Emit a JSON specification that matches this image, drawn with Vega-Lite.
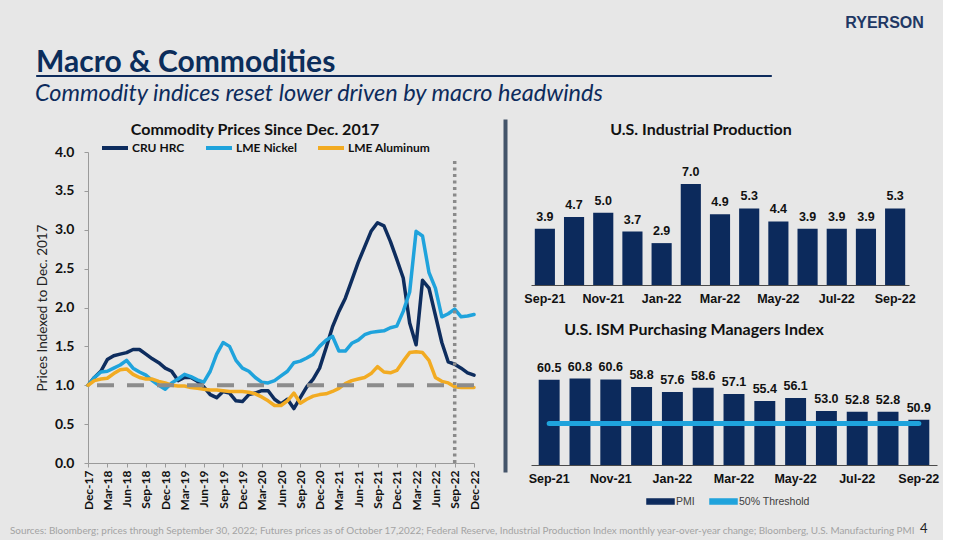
{
  "$schema": "https://vega.github.io/schema/vega-lite/v6.json",
  "background": "#e7e7e7",
  "padding": {"left": 10, "top": 14, "right": 4, "bottom": 4},
  "title": {"text": "RYERSON", "anchor": "end", "dx": -15, "font": "Liberation Sans", "fontSize": 16, "fontWeight": "bold", "color": "#1f3864", "offset": 17},
  "spacing": 12,
  "resolve": {"scale": {"color": "independent"}, "legend": {"color": "independent"}},
  "vconcat": [
    {
      "spacing": 3,
      "resolve": {"scale": {"color": "independent"}, "legend": {"color": "independent"}},
      "vconcat": [
        {
          "spacing": 0,
          "hconcat": [
            {"width": 25, "height": 1, "data": {"values": [{}]}, "mark": {"type": "point", "opacity": 0, "size": 0}, "encoding": {}},
            {"width": 735, "height": 1, "data": {"values": [{}]}, "mark": {"type": "point", "opacity": 0, "size": 0}, "encoding": {},
             "view": {"stroke": "#0d2b5c", "strokeWidth": 1, "fill": "#0d2b5c"},
             "title": {"text": "Macro & Commodities", "anchor": "start", "font": "Lato", "fontSize": 30, "fontWeight": "bold", "color": "#0b2d5b", "offset": -3}}
          ]
        },
        {
          "title": {"text": "Commodity indices reset lower driven by macro headwinds", "anchor": "start", "dx": 25, "font": "Lato", "fontSize": 23.5, "fontStyle": "italic", "fontWeight": "normal", "color": "#0d2b5c", "offset": 14},
          "spacing": 23,
          "resolve": {"scale": {"color": "independent"}, "legend": {"color": "independent"}},
          "hconcat": [
            {"width": 2, "height": 1, "data": {"values": [{}]}, "mark": {"type": "point", "opacity": 0, "size": 0}, "encoding": {}},
            {
              "spacing": -17,
              "resolve": {"scale": {"color": "independent"}, "legend": {"color": "independent"}},
              "vconcat": [
                {"width": 386, "height": 1, "data": {"values": [{}]}, "mark": {"type": "point", "opacity": 0, "size": 0}, "encoding": {},
                 "title": {"text": "Commodity Prices Since Dec. 2017", "orient": "bottom", "dx": -26, "font": "Lato", "fontSize": 16, "fontWeight": "bold", "color": "#111111", "offset": 0}},
                {
                  "width": 386,
                  "height": 311,
                  "encoding": {
                    "y": {"field": "value", "type": "quantitative", "scale": {"domain": [0, 4], "nice": false},
                          "axis": {"title": "Prices Indexed to Dec. 2017", "values": [0, 0.5, 1, 1.5, 2, 2.5, 3, 3.5, 4], "format": ".1f", "labelOverlap": false,
                                   "labelFont": "Lato", "labelFontWeight": "bold", "labelFontSize": 14, "labelColor": "#111111", "labelPadding": 10,
                                   "titleFont": "Lato", "titleFontWeight": "normal", "titleFontSize": 13.5, "titleColor": "#222222", "titlePadding": 5,
                                   "domainColor": "#9a9a9a", "tickColor": "#9a9a9a", "tickSize": 4, "grid": false}}
                  },
                  "layer": [
                    {
                      "data": {"values": [
                        {"month": "Dec-17", "series": "CRU HRC", "value": 1.00},
                        {"month": "Jan-18", "series": "CRU HRC", "value": 1.10},
                        {"month": "Feb-18", "series": "CRU HRC", "value": 1.18},
                        {"month": "Mar-18", "series": "CRU HRC", "value": 1.33},
                        {"month": "Apr-18", "series": "CRU HRC", "value": 1.38},
                        {"month": "May-18", "series": "CRU HRC", "value": 1.40},
                        {"month": "Jun-18", "series": "CRU HRC", "value": 1.42},
                        {"month": "Jul-18", "series": "CRU HRC", "value": 1.46},
                        {"month": "Aug-18", "series": "CRU HRC", "value": 1.46},
                        {"month": "Sep-18", "series": "CRU HRC", "value": 1.40},
                        {"month": "Oct-18", "series": "CRU HRC", "value": 1.34},
                        {"month": "Nov-18", "series": "CRU HRC", "value": 1.29},
                        {"month": "Dec-18", "series": "CRU HRC", "value": 1.22},
                        {"month": "Jan-19", "series": "CRU HRC", "value": 1.18},
                        {"month": "Feb-19", "series": "CRU HRC", "value": 1.06},
                        {"month": "Mar-19", "series": "CRU HRC", "value": 1.10},
                        {"month": "Apr-19", "series": "CRU HRC", "value": 1.10},
                        {"month": "May-19", "series": "CRU HRC", "value": 1.05},
                        {"month": "Jun-19", "series": "CRU HRC", "value": 0.98},
                        {"month": "Jul-19", "series": "CRU HRC", "value": 0.88},
                        {"month": "Aug-19", "series": "CRU HRC", "value": 0.84},
                        {"month": "Sep-19", "series": "CRU HRC", "value": 0.92},
                        {"month": "Oct-19", "series": "CRU HRC", "value": 0.90},
                        {"month": "Nov-19", "series": "CRU HRC", "value": 0.80},
                        {"month": "Dec-19", "series": "CRU HRC", "value": 0.79},
                        {"month": "Jan-20", "series": "CRU HRC", "value": 0.88},
                        {"month": "Feb-20", "series": "CRU HRC", "value": 0.90},
                        {"month": "Mar-20", "series": "CRU HRC", "value": 0.93},
                        {"month": "Apr-20", "series": "CRU HRC", "value": 0.93},
                        {"month": "May-20", "series": "CRU HRC", "value": 0.82},
                        {"month": "Jun-20", "series": "CRU HRC", "value": 0.76},
                        {"month": "Jul-20", "series": "CRU HRC", "value": 0.82},
                        {"month": "Aug-20", "series": "CRU HRC", "value": 0.70},
                        {"month": "Sep-20", "series": "CRU HRC", "value": 0.84},
                        {"month": "Oct-20", "series": "CRU HRC", "value": 0.98},
                        {"month": "Nov-20", "series": "CRU HRC", "value": 1.08},
                        {"month": "Dec-20", "series": "CRU HRC", "value": 1.22},
                        {"month": "Jan-21", "series": "CRU HRC", "value": 1.48},
                        {"month": "Feb-21", "series": "CRU HRC", "value": 1.75},
                        {"month": "Mar-21", "series": "CRU HRC", "value": 1.95},
                        {"month": "Apr-21", "series": "CRU HRC", "value": 2.12},
                        {"month": "May-21", "series": "CRU HRC", "value": 2.35},
                        {"month": "Jun-21", "series": "CRU HRC", "value": 2.58},
                        {"month": "Jul-21", "series": "CRU HRC", "value": 2.78},
                        {"month": "Aug-21", "series": "CRU HRC", "value": 2.98},
                        {"month": "Sep-21", "series": "CRU HRC", "value": 3.09},
                        {"month": "Oct-21", "series": "CRU HRC", "value": 3.05},
                        {"month": "Nov-21", "series": "CRU HRC", "value": 2.85},
                        {"month": "Dec-21", "series": "CRU HRC", "value": 2.62},
                        {"month": "Jan-22", "series": "CRU HRC", "value": 2.38},
                        {"month": "Feb-22", "series": "CRU HRC", "value": 1.80},
                        {"month": "Mar-22", "series": "CRU HRC", "value": 1.52},
                        {"month": "Apr-22", "series": "CRU HRC", "value": 2.35},
                        {"month": "May-22", "series": "CRU HRC", "value": 2.25},
                        {"month": "Jun-22", "series": "CRU HRC", "value": 1.90},
                        {"month": "Jul-22", "series": "CRU HRC", "value": 1.55},
                        {"month": "Aug-22", "series": "CRU HRC", "value": 1.30},
                        {"month": "Sep-22", "series": "CRU HRC", "value": 1.27},
                        {"month": "Oct-22", "series": "CRU HRC", "value": 1.22},
                        {"month": "Nov-22", "series": "CRU HRC", "value": 1.16},
                        {"month": "Dec-22", "series": "CRU HRC", "value": 1.13},
                        {"month": "Dec-17", "series": "LME Nickel", "value": 1.00},
                        {"month": "Jan-18", "series": "LME Nickel", "value": 1.10},
                        {"month": "Feb-18", "series": "LME Nickel", "value": 1.17},
                        {"month": "Mar-18", "series": "LME Nickel", "value": 1.18},
                        {"month": "Apr-18", "series": "LME Nickel", "value": 1.22},
                        {"month": "May-18", "series": "LME Nickel", "value": 1.26},
                        {"month": "Jun-18", "series": "LME Nickel", "value": 1.32},
                        {"month": "Jul-18", "series": "LME Nickel", "value": 1.22},
                        {"month": "Aug-18", "series": "LME Nickel", "value": 1.17},
                        {"month": "Sep-18", "series": "LME Nickel", "value": 1.13},
                        {"month": "Oct-18", "series": "LME Nickel", "value": 1.06},
                        {"month": "Nov-18", "series": "LME Nickel", "value": 1.00},
                        {"month": "Dec-18", "series": "LME Nickel", "value": 0.95},
                        {"month": "Jan-19", "series": "LME Nickel", "value": 1.03},
                        {"month": "Feb-19", "series": "LME Nickel", "value": 1.08},
                        {"month": "Mar-19", "series": "LME Nickel", "value": 1.14},
                        {"month": "Apr-19", "series": "LME Nickel", "value": 1.11},
                        {"month": "May-19", "series": "LME Nickel", "value": 1.07},
                        {"month": "Jun-19", "series": "LME Nickel", "value": 1.04},
                        {"month": "Jul-19", "series": "LME Nickel", "value": 1.18},
                        {"month": "Aug-19", "series": "LME Nickel", "value": 1.40},
                        {"month": "Sep-19", "series": "LME Nickel", "value": 1.55},
                        {"month": "Oct-19", "series": "LME Nickel", "value": 1.50},
                        {"month": "Nov-19", "series": "LME Nickel", "value": 1.32},
                        {"month": "Dec-19", "series": "LME Nickel", "value": 1.22},
                        {"month": "Jan-20", "series": "LME Nickel", "value": 1.18},
                        {"month": "Feb-20", "series": "LME Nickel", "value": 1.10},
                        {"month": "Mar-20", "series": "LME Nickel", "value": 1.04},
                        {"month": "Apr-20", "series": "LME Nickel", "value": 1.03},
                        {"month": "May-20", "series": "LME Nickel", "value": 1.06},
                        {"month": "Jun-20", "series": "LME Nickel", "value": 1.12},
                        {"month": "Jul-20", "series": "LME Nickel", "value": 1.18},
                        {"month": "Aug-20", "series": "LME Nickel", "value": 1.29},
                        {"month": "Sep-20", "series": "LME Nickel", "value": 1.31},
                        {"month": "Oct-20", "series": "LME Nickel", "value": 1.35},
                        {"month": "Nov-20", "series": "LME Nickel", "value": 1.40},
                        {"month": "Dec-20", "series": "LME Nickel", "value": 1.50},
                        {"month": "Jan-21", "series": "LME Nickel", "value": 1.58},
                        {"month": "Feb-21", "series": "LME Nickel", "value": 1.63},
                        {"month": "Mar-21", "series": "LME Nickel", "value": 1.44},
                        {"month": "Apr-21", "series": "LME Nickel", "value": 1.44},
                        {"month": "May-21", "series": "LME Nickel", "value": 1.54},
                        {"month": "Jun-21", "series": "LME Nickel", "value": 1.58},
                        {"month": "Jul-21", "series": "LME Nickel", "value": 1.65},
                        {"month": "Aug-21", "series": "LME Nickel", "value": 1.68},
                        {"month": "Sep-21", "series": "LME Nickel", "value": 1.69},
                        {"month": "Oct-21", "series": "LME Nickel", "value": 1.70},
                        {"month": "Nov-21", "series": "LME Nickel", "value": 1.74},
                        {"month": "Dec-21", "series": "LME Nickel", "value": 1.76},
                        {"month": "Jan-22", "series": "LME Nickel", "value": 1.95},
                        {"month": "Feb-22", "series": "LME Nickel", "value": 2.20},
                        {"month": "Mar-22", "series": "LME Nickel", "value": 2.98},
                        {"month": "Apr-22", "series": "LME Nickel", "value": 2.92},
                        {"month": "May-22", "series": "LME Nickel", "value": 2.45},
                        {"month": "Jun-22", "series": "LME Nickel", "value": 2.25},
                        {"month": "Jul-22", "series": "LME Nickel", "value": 1.88},
                        {"month": "Aug-22", "series": "LME Nickel", "value": 1.92},
                        {"month": "Sep-22", "series": "LME Nickel", "value": 1.98},
                        {"month": "Oct-22", "series": "LME Nickel", "value": 1.88},
                        {"month": "Nov-22", "series": "LME Nickel", "value": 1.89},
                        {"month": "Dec-22", "series": "LME Nickel", "value": 1.91},
                        {"month": "Dec-17", "series": "LME Aluminum", "value": 1.00},
                        {"month": "Jan-18", "series": "LME Aluminum", "value": 1.06},
                        {"month": "Feb-18", "series": "LME Aluminum", "value": 1.08},
                        {"month": "Mar-18", "series": "LME Aluminum", "value": 1.09},
                        {"month": "Apr-18", "series": "LME Aluminum", "value": 1.15},
                        {"month": "May-18", "series": "LME Aluminum", "value": 1.20},
                        {"month": "Jun-18", "series": "LME Aluminum", "value": 1.21},
                        {"month": "Jul-18", "series": "LME Aluminum", "value": 1.14},
                        {"month": "Aug-18", "series": "LME Aluminum", "value": 1.10},
                        {"month": "Sep-18", "series": "LME Aluminum", "value": 1.08},
                        {"month": "Oct-18", "series": "LME Aluminum", "value": 1.08},
                        {"month": "Nov-18", "series": "LME Aluminum", "value": 1.05},
                        {"month": "Dec-18", "series": "LME Aluminum", "value": 1.03},
                        {"month": "Jan-19", "series": "LME Aluminum", "value": 1.00},
                        {"month": "Feb-19", "series": "LME Aluminum", "value": 0.99},
                        {"month": "Mar-19", "series": "LME Aluminum", "value": 0.99},
                        {"month": "Apr-19", "series": "LME Aluminum", "value": 0.97},
                        {"month": "May-19", "series": "LME Aluminum", "value": 0.96},
                        {"month": "Jun-19", "series": "LME Aluminum", "value": 0.95},
                        {"month": "Jul-19", "series": "LME Aluminum", "value": 0.94},
                        {"month": "Aug-19", "series": "LME Aluminum", "value": 0.94},
                        {"month": "Sep-19", "series": "LME Aluminum", "value": 0.93},
                        {"month": "Oct-19", "series": "LME Aluminum", "value": 0.92},
                        {"month": "Nov-19", "series": "LME Aluminum", "value": 0.92},
                        {"month": "Dec-19", "series": "LME Aluminum", "value": 0.92},
                        {"month": "Jan-20", "series": "LME Aluminum", "value": 0.91},
                        {"month": "Feb-20", "series": "LME Aluminum", "value": 0.89},
                        {"month": "Mar-20", "series": "LME Aluminum", "value": 0.85},
                        {"month": "Apr-20", "series": "LME Aluminum", "value": 0.80},
                        {"month": "May-20", "series": "LME Aluminum", "value": 0.74},
                        {"month": "Jun-20", "series": "LME Aluminum", "value": 0.74},
                        {"month": "Jul-20", "series": "LME Aluminum", "value": 0.80},
                        {"month": "Aug-20", "series": "LME Aluminum", "value": 0.90},
                        {"month": "Sep-20", "series": "LME Aluminum", "value": 0.77},
                        {"month": "Oct-20", "series": "LME Aluminum", "value": 0.82},
                        {"month": "Nov-20", "series": "LME Aluminum", "value": 0.86},
                        {"month": "Dec-20", "series": "LME Aluminum", "value": 0.88},
                        {"month": "Jan-21", "series": "LME Aluminum", "value": 0.89},
                        {"month": "Feb-21", "series": "LME Aluminum", "value": 0.92},
                        {"month": "Mar-21", "series": "LME Aluminum", "value": 0.96},
                        {"month": "Apr-21", "series": "LME Aluminum", "value": 1.02},
                        {"month": "May-21", "series": "LME Aluminum", "value": 1.06},
                        {"month": "Jun-21", "series": "LME Aluminum", "value": 1.08},
                        {"month": "Jul-21", "series": "LME Aluminum", "value": 1.10},
                        {"month": "Aug-21", "series": "LME Aluminum", "value": 1.15},
                        {"month": "Sep-21", "series": "LME Aluminum", "value": 1.24},
                        {"month": "Oct-21", "series": "LME Aluminum", "value": 1.17},
                        {"month": "Nov-21", "series": "LME Aluminum", "value": 1.16},
                        {"month": "Dec-21", "series": "LME Aluminum", "value": 1.19},
                        {"month": "Jan-22", "series": "LME Aluminum", "value": 1.31},
                        {"month": "Feb-22", "series": "LME Aluminum", "value": 1.42},
                        {"month": "Mar-22", "series": "LME Aluminum", "value": 1.43},
                        {"month": "Apr-22", "series": "LME Aluminum", "value": 1.42},
                        {"month": "May-22", "series": "LME Aluminum", "value": 1.32},
                        {"month": "Jun-22", "series": "LME Aluminum", "value": 1.10},
                        {"month": "Jul-22", "series": "LME Aluminum", "value": 1.05},
                        {"month": "Aug-22", "series": "LME Aluminum", "value": 1.03},
                        {"month": "Sep-22", "series": "LME Aluminum", "value": 0.98},
                        {"month": "Oct-22", "series": "LME Aluminum", "value": 0.97},
                        {"month": "Nov-22", "series": "LME Aluminum", "value": 0.97},
                        {"month": "Dec-22", "series": "LME Aluminum", "value": 0.97}
                      ]},
                      "mark": {"type": "line", "strokeWidth": 3.5, "strokeJoin": "round", "strokeCap": "round"},
                      "encoding": {
                        "x": {"field": "month", "type": "ordinal", "sort": null, "scale": {"type": "point", "padding": 0},
                              "axis": {"title": null, "values": ["Dec-17","Mar-18","Jun-18","Sep-18","Dec-18","Mar-19","Jun-19","Sep-19","Dec-19","Mar-20","Jun-20","Sep-20","Dec-20","Mar-21","Jun-21","Sep-21","Dec-21","Mar-22","Jun-22","Sep-22","Dec-22"],
                                       "labelAngle": -90, "labelFont": "Lato", "labelFontWeight": "bold", "labelFontSize": 12, "labelColor": "#111111", "labelPadding": 3,
                                       "labelOverlap": false, "domainColor": "#9a9a9a", "tickColor": "#9a9a9a", "tickSize": 4, "grid": false}},
                        "color": {"field": "series", "type": "nominal",
                                  "scale": {"domain": ["CRU HRC", "LME Nickel", "LME Aluminum"], "range": ["#0e2d5e", "#1fa3dc", "#f2ab22"]},
                                  "legend": {"title": null, "orient": "top", "offset": -16, "padding": 12, "direction": "horizontal",
                                             "symbolType": "stroke", "symbolStrokeWidth": 4, "symbolSize": 676, "labelFont": "Lato", "labelFontWeight": "bold",
                                             "labelFontSize": 12, "labelColor": "#111111", "labelOffset": 2, "columnPadding": 13}}
                      }
                    },
                    {
                      "data": {"values": [{"value": 1}]},
                      "mark": {"type": "rule", "strokeDash": [17, 13], "strokeWidth": 4, "color": "#8c8c8c"}
                    },
                    {
                      "data": {"values": [{"month": "Sep-22", "value": 0, "high": 3.9}]},
                      "mark": {"type": "rule", "strokeDash": [3, 3.5], "strokeWidth": 3.5, "color": "#8a8a8a"},
                      "encoding": {
                        "x": {"field": "month", "type": "ordinal", "sort": null},
                        "y2": {"field": "high"}
                      }
                    }
                  ]
                }
              ]
            },
            {
              "spacing": 15,
              "resolve": {"scale": {"color": "independent"}, "legend": {"color": "independent"}},
              "hconcat": [
                {"width": 1, "height": 350, "data": {"values": [{}]}, "mark": {"type": "point", "opacity": 0, "size": 0}, "encoding": {},
                 "view": {"stroke": "#44546a", "strokeWidth": 3, "fill": "#44546a"}},
                {
                  "spacing": 17,
                  "resolve": {"scale": {"color": "independent"}, "legend": {"color": "independent"}},
                  "vconcat": [
                    {"width": 378, "height": 1, "data": {"values": [{}]}, "mark": {"type": "point", "opacity": 0, "size": 0}, "encoding": {},
                     "title": {"text": "U.S. Industrial Production", "orient": "bottom", "dx": -19, "font": "Lato", "fontSize": 16, "fontWeight": "bold", "color": "#111111", "offset": 0}},
                    {
                      "width": 378,
                      "height": 130,
                      "data": {"values": [
                        {"month": "Sep-21", "value": 3.9},
                        {"month": "Oct-21", "value": 4.7},
                        {"month": "Nov-21", "value": 5.0},
                        {"month": "Dec-21", "value": 3.7},
                        {"month": "Jan-22", "value": 2.9},
                        {"month": "Feb-22", "value": 7.0},
                        {"month": "Mar-22", "value": 4.9},
                        {"month": "Apr-22", "value": 5.3},
                        {"month": "May-22", "value": 4.4},
                        {"month": "Jun-22", "value": 3.9},
                        {"month": "Jul-22", "value": 3.9},
                        {"month": "Aug-22", "value": 3.9},
                        {"month": "Sep-22", "value": 5.3}
                      ]},
                      "encoding": {
                        "x": {"field": "month", "type": "ordinal", "sort": null, "scale": {"paddingInner": 0.31, "paddingOuter": 0.13},
                              "axis": {"title": null, "values": ["Sep-21","Nov-21","Jan-22","Mar-22","May-22","Jul-22","Sep-22"], "labelAngle": 0,
                                       "ticks": false, "domainColor": "#4a4a4a", "labelFont": "Liberation Sans", "labelFontWeight": "bold",
                                       "labelFontSize": 12.5, "labelColor": "#111111", "labelPadding": 7}},
                        "y": {"field": "value", "type": "quantitative", "scale": {"domain": [0, 9], "nice": false}, "axis": null}
                      },
                      "layer": [
                        {"mark": {"type": "bar", "color": "#0c2a5c"}},
                        {"mark": {"type": "text", "dy": -12, "font": "Liberation Sans", "fontWeight": "bold", "fontSize": 12.5, "color": "#111111"},
                         "encoding": {"text": {"field": "value", "type": "quantitative", "format": ".1f"}}}
                      ]
                    },
                    {
                      "width": 406,
                      "height": 108,
                      "title": {"text": "U.S. ISM Purchasing Managers Index", "font": "Lato", "fontSize": 16, "fontWeight": "bold", "color": "#111111", "offset": 19, "dx": -40},
                      "data": {"values": [
                        {"month": "Sep-21", "pmi": 60.5, "threshold": 50},
                        {"month": "Oct-21", "pmi": 60.8, "threshold": 50},
                        {"month": "Nov-21", "pmi": 60.6, "threshold": 50},
                        {"month": "Dec-21", "pmi": 58.8, "threshold": 50},
                        {"month": "Jan-22", "pmi": 57.6, "threshold": 50},
                        {"month": "Feb-22", "pmi": 58.6, "threshold": 50},
                        {"month": "Mar-22", "pmi": 57.1, "threshold": 50},
                        {"month": "Apr-22", "pmi": 55.4, "threshold": 50},
                        {"month": "May-22", "pmi": 56.1, "threshold": 50},
                        {"month": "Jun-22", "pmi": 53.0, "threshold": 50},
                        {"month": "Jul-22", "pmi": 52.8, "threshold": 50},
                        {"month": "Aug-22", "pmi": 52.8, "threshold": 50},
                        {"month": "Sep-22", "pmi": 50.9, "threshold": 50}
                      ]},
                      "encoding": {
                        "x": {"field": "month", "type": "ordinal", "sort": null, "scale": {"paddingInner": 0.32, "paddingOuter": 0.25},
                              "axis": {"title": null, "values": ["Sep-21","Nov-21","Jan-22","Mar-22","May-22","Jul-22","Sep-22"], "labelAngle": 0,
                                       "ticks": false, "domainColor": "#4a4a4a", "labelFont": "Liberation Sans", "labelFontWeight": "bold",
                                       "labelFontSize": 12.5, "labelColor": "#111111", "labelPadding": 7}}
                      },
                      "layer": [
                        {"mark": {"type": "bar"},
                         "encoding": {
                           "y": {"field": "pmi", "type": "quantitative", "scale": {"domain": [40, 66], "nice": false, "zero": false}, "axis": null},
                           "y2": {"datum": 40},
                           "color": {"datum": "PMI", "type": "nominal",
                                     "scale": {"domain": ["PMI", "50% Threshold"], "range": ["#0c2a5c", "#1fa3dc"]},
                                     "legend": {"title": null, "orient": "none", "legendX": 115, "legendY": 130, "direction": "horizontal",
                                                "symbolType": "M-1,-0.18H1V0.18H-1Z", "symbolSize": 729, "labelFont": "Liberation Sans",
                                                "labelFontSize": 10.5, "labelColor": "#404040", "labelOffset": 1, "columnPadding": 12}}
                         }},
                        {"mark": {"type": "line", "strokeWidth": 5, "strokeCap": "round"},
                         "encoding": {
                           "y": {"field": "threshold", "type": "quantitative"},
                           "color": {"datum": "50% Threshold", "type": "nominal"}
                         }},
                        {"mark": {"type": "text", "dy": -12, "font": "Liberation Sans", "fontWeight": "bold", "fontSize": 12.5, "color": "#111111"},
                         "encoding": {
                           "y": {"field": "pmi", "type": "quantitative"},
                           "text": {"field": "pmi", "type": "quantitative", "format": ".1f"}
                         }}
                      ]
                    }
                  ]
                }
              ]
            }
          ]
        }
      ]
    },
    {
      "spacing": 4,
      "hconcat": [
        {"width": 1, "height": 1, "data": {"values": [{}]}, "mark": {"type": "point", "opacity": 0, "size": 0}, "encoding": {},
         "title": {"text": "Sources: Bloomberg; prices through September 30, 2022; Futures prices as of October 17,2022; Federal Reserve, Industrial Production Index monthly year-over-year change; Bloomberg, U.S. Manufacturing PMI",
                   "anchor": "start", "font": "Lato", "fontSize": 9.9, "fontWeight": "normal", "color": "#a3a3a3", "offset": 0}},
        {"width": 1, "height": 1, "data": {"values": [{}]}, "mark": {"type": "point", "opacity": 0, "size": 0}, "encoding": {},
         "title": {"text": "4", "anchor": "start", "font": "Lato", "fontSize": 13, "fontWeight": "normal", "color": "#222222", "offset": 0}}
      ]
    }
  ],
  "config": {
    "view": {"stroke": null},
    "font": "Lato"
  }
}
